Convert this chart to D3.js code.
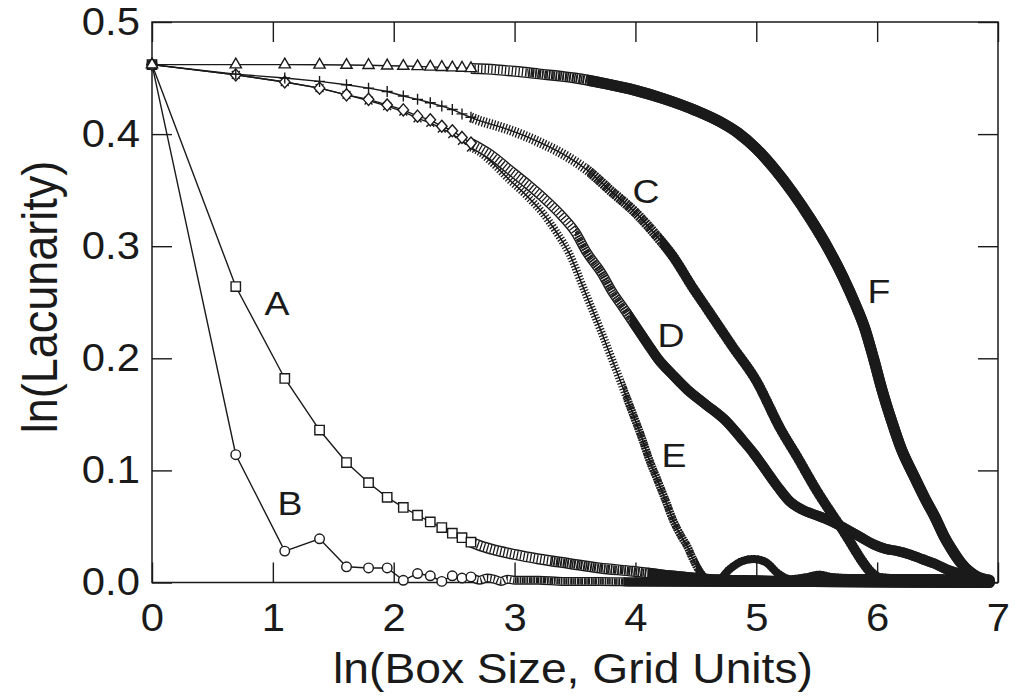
<!DOCTYPE html>
<html>
<head>
<meta charset="utf-8">
<script src="https://cdn.jsdelivr.net/npm/d3@7"></script>
<style>
  body { margin: 0; background: #fff; }
  text { font-family: "Liberation Sans", Arial, sans-serif; fill: #1a1a1a; }
</style>
</head>
<body>
<div id="chart"></div>
<script>
// box sizes plotted one marker at a time (grid units)
const boxSizes = [1, 2, 3, 4, 5, 6, 7, 8, 9, 10, 11, 12, 13, 14];

// ln(lacunarity) at those box sizes
const lacA = [0.462, 0.264, 0.182, 0.136, 0.107, 0.089, 0.076, 0.067, 0.060, 0.054, 0.049, 0.044, 0.040, 0.036];
const lacB = [0.462, 0.114, 0.028, 0.039, 0.014, 0.013, 0.013, 0.002, 0.008, 0.006, 0.001, 0.006, 0.004, 0.005];
const lacC = [0.462, 0.4535, 0.450, 0.447, 0.444, 0.441, 0.438, 0.434, 0.431, 0.428, 0.425, 0.422, 0.418, 0.415];
const lacD = [0.462, 0.4528, 0.4465, 0.441, 0.435, 0.431, 0.426, 0.4216, 0.416, 0.4127, 0.407, 0.403, 0.397, 0.392];
const lacE = [0.462, 0.4528, 0.4465, 0.441, 0.435, 0.430, 0.425, 0.420, 0.414, 0.410, 0.405, 0.400, 0.394, 0.388];
const lacF = [0.462, 0.462, 0.462, 0.4618, 0.4616, 0.4614, 0.461, 0.4607, 0.4604, 0.460, 0.4597, 0.4593, 0.459, 0.4586];

// larger boxes, where the markers pile up: [ln(box size), ln(lacunarity)]
const tailA = [[2.71, 0.033], [2.8, 0.030], [3.0, 0.025], [3.2, 0.021], [3.45, 0.017], [3.7, 0.013],
  [3.98, 0.010], [4.28, 0.006], [4.58, 0.003], [4.98, 0.0015], [5.47, 0.0008], [5.97, 0.0004], [6.93, 0]];
const tailB = [[2.71, 0.002], [2.77, 0.004], [2.83, 0.003], [2.89, 0.001], [2.94, 0.003], [3.0, 0.002],
  [3.2, 0.002], [3.4, 0.001], [3.7, 0.001], [4.0, 0.0005], [5.0, 0], [6.93, 0]];
const tailC = [[2.71, 0.412], [2.77, 0.410], [2.95, 0.404], [3.2, 0.393], [3.45, 0.379], [3.6, 0.368],
  [3.8, 0.349], [4.0, 0.330], [4.2, 0.306], [4.31, 0.291], [4.48, 0.262], [4.6, 0.243], [4.8, 0.211],
  [5.0, 0.180], [5.2, 0.137], [5.35, 0.110], [5.5, 0.082], [5.62, 0.062], [5.72, 0.046], [5.8, 0.032],
  [5.87, 0.020], [5.94, 0.010], [6.02, 0.004], [6.3, 0.002], [6.6, 0.001], [6.93, 0]];
const tailD = [[2.71, 0.388], [2.8, 0.382], [2.95, 0.369], [3.1, 0.356], [3.23, 0.344], [3.4, 0.326],
  [3.5, 0.313], [3.6, 0.294], [3.72, 0.276], [3.81, 0.259], [3.9, 0.245], [4.0, 0.229], [4.1, 0.213],
  [4.19, 0.199], [4.31, 0.185], [4.43, 0.172], [4.58, 0.159], [4.76, 0.143], [4.88, 0.128], [4.98, 0.115],
  [5.08, 0.100], [5.18, 0.085], [5.28, 0.072], [5.38, 0.065], [5.47, 0.061], [5.57, 0.057], [5.67, 0.052],
  [5.77, 0.046], [5.87, 0.040], [5.97, 0.034], [6.07, 0.030], [6.17, 0.028], [6.27, 0.025], [6.37, 0.021],
  [6.47, 0.017], [6.57, 0.012], [6.67, 0.008], [6.77, 0.004], [6.93, 0.001]];
const tailE = [[2.71, 0.384], [2.8, 0.376], [2.95, 0.360], [3.1, 0.345], [3.23, 0.330], [3.35, 0.312],
  [3.45, 0.294], [3.58, 0.260], [3.72, 0.223], [3.86, 0.184], [3.98, 0.150], [4.05, 0.130], [4.12, 0.108],
  [4.18, 0.092], [4.25, 0.073], [4.31, 0.056], [4.38, 0.041], [4.43, 0.032], [4.48, 0.020], [4.53, 0.010],
  [4.58, 0.004], [4.68, 0.002], [4.78, 0.012], [4.88, 0.019], [4.98, 0.021], [5.08, 0.018], [5.18, 0.008],
  [5.28, 0.003], [5.43, 0.005], [5.52, 0.007], [5.62, 0.005], [5.77, 0.004], [6.0, 0.004], [6.5, 0.004],
  [6.93, 0.002]];
const tailF = [[2.71, 0.4583], [2.77, 0.4580], [3.0, 0.4560], [3.2, 0.4537], [3.5, 0.4500], [3.75, 0.4450],
  [4.0, 0.4390], [4.25, 0.4310], [4.5, 0.4210], [4.7, 0.4110], [4.85, 0.4010], [5.0, 0.3870],
  [5.15, 0.3690], [5.3, 0.3480], [5.45, 0.3240], [5.6, 0.2970], [5.72, 0.2720], [5.82, 0.2480],
  [5.9, 0.2260], [5.97, 0.2000], [6.04, 0.1720], [6.12, 0.1440], [6.2, 0.1190], [6.3, 0.0960],
  [6.4, 0.0740], [6.48, 0.0580], [6.55, 0.0420], [6.62, 0.0290], [6.69, 0.0180], [6.76, 0.0100],
  [6.83, 0.0050], [6.93, 0.0020]];

const xTicks = [0, 1, 2, 3, 4, 5, 6, 7];
const yTicks = [0, 0.1, 0.2, 0.3, 0.4, 0.5];

const width = 1015, height = 696;
const ink = "#1a1a1a";
const stretch = 1.1; // lettering is a little wider than tall

// open marker shapes
const plusShape = {
  draw(ctx, size) {
    const r = Math.sqrt(size) / 2;
    ctx.moveTo(-r, 0); ctx.lineTo(r, 0);
    ctx.moveTo(0, -r); ctx.lineTo(0, r);
  }
};
const timesShape = {
  draw(ctx, size) {
    const r = Math.sqrt(size) / 2 * 0.75;
    ctx.moveTo(-r, -r); ctx.lineTo(r, r);
    ctx.moveTo(-r, r); ctx.lineTo(r, -r);
  }
};
const diamondShape = {
  draw(ctx, size) {
    const w = Math.sqrt(size) / 2, h = w * 1.15;
    ctx.moveTo(0, -h); ctx.lineTo(w, 0); ctx.lineTo(0, h); ctx.lineTo(-w, 0); ctx.closePath();
  }
};

// drawing order and look of each curve; band = width of the packed-marker band,
// denseFrom / solidFrom = ln(box size) where the band fills in and goes solid
const series = [
  {name: "A", values: lacA, tail: tailA, shape: d3.symbolSquare, size: 88, band: 11, style: "ladder", denseFrom: 3.3, solidFrom: 4.1, label: [1.034, 0.2384]},
  {name: "B", values: lacB, tail: tailB, shape: d3.symbolCircle, size: 72, band: 9, style: "ladder", denseFrom: 3.0, solidFrom: 3.9, label: [1.142, 0.0602]},
  {name: "E", values: lacE, tail: tailE, shape: timesShape, size: 110, band: 8, style: "rungs", denseFrom: 3.9, solidFrom: 4.5, label: [4.319, 0.1029]},
  {name: "D", values: lacD, tail: tailD, shape: diamondShape, size: 110, band: 10, style: "ladder", denseFrom: 3.5, solidFrom: 3.95, label: [4.294, 0.2099]},
  {name: "C", values: lacC, tail: tailC, shape: plusShape, size: 120, band: 10, style: "rungs", denseFrom: 3.6, solidFrom: 4.2, label: [4.087, 0.3382]},
  {name: "F", values: lacF, tail: tailF, shape: d3.symbolTriangle, size: 55, band: 11, style: "ladder", denseFrom: 3.1, solidFrom: 3.6, label: [6.015, 0.2491]}
];

const svg = d3.select("#chart").append("svg")
  .attr("width", width)
  .attr("height", height);

svg.append("rect").attr("width", width).attr("height", height).attr("fill", "#fff");

const x = d3.scaleLinear().domain([0, 7]).range([152, 998]);
const y = d3.scaleLinear().domain([0, 0.5]).range([582.5, 22]);

const defs = svg.append("defs");

// axes: inward ticks on all four sides, labels on bottom and left only
const axisStyle = g => {
  g.select(".domain").remove();
  g.selectAll(".tick line").attr("stroke", ink).attr("stroke-width", 1.4);
};
const labelStyle = g => g.selectAll(".tick text")
  .attr("font-size", 38)
  .attr("fill", ink)
  .attr("transform", `scale(${stretch},1)`);

svg.append("g")
  .attr("transform", `translate(0,${y(0)})`)
  .call(d3.axisBottom(x).tickValues(xTicks).tickFormat(d3.format("d")).tickSize(-20).tickPadding(22))
  .call(axisStyle)
  .call(labelStyle);

svg.append("g")
  .attr("transform", `translate(0,${y(0.5)})`)
  .call(d3.axisTop(x).tickValues(xTicks).tickFormat("").tickSize(-20))
  .call(axisStyle);

svg.append("g")
  .attr("transform", `translate(${x(0)},0)`)
  .call(d3.axisLeft(y).tickValues(yTicks).tickFormat(d3.format(".1f")).tickSize(-20).tickPadding(11))
  .call(axisStyle)
  .call(labelStyle);

svg.append("g")
  .attr("transform", `translate(${x(7)},0)`)
  .call(d3.axisRight(y).tickValues(yTicks).tickFormat("").tickSize(-20))
  .call(axisStyle);

svg.append("rect")
  .attr("x", x(0)).attr("y", y(0.5))
  .attr("width", x(7) - x(0)).attr("height", y(0) - y(0.5))
  .attr("fill", "none").attr("stroke", ink).attr("stroke-width", 1.5);

// curves
const straight = d3.line().x(d => x(d[0])).y(d => y(d[1]));
const smooth = d3.line().x(d => x(d[0])).y(d => y(d[1])).curve(d3.curveMonotoneX);

const plot = svg.append("g");

function clipFrom(id, x0, x1) {
  defs.append("clipPath").attr("id", id)
    .append("rect")
    .attr("x", x(x0)).attr("y", 0)
    .attr("width", x(x1) - x(x0)).attr("height", height);
  return `url(#${id})`;
}

series.forEach(s => {
  const pts = boxSizes.map((b, i) => [Math.log(b), s.values[i]]);
  const tailPts = [pts[pts.length - 1]].concat(s.tail);
  const g = plot.append("g").attr("class", "curve-" + s.name);
  const denseClip = clipFrom("dense-" + s.name, s.denseFrom, s.solidFrom);
  const solidClip = clipFrom("solid-" + s.name, s.solidFrom, 8);

  // thin connecting line
  g.append("path").attr("d", straight(pts))
    .attr("fill", "none").attr("stroke", ink).attr("stroke-width", 1.4);
  const tailPath = smooth(tailPts);
  g.append("path").attr("d", tailPath)
    .attr("fill", "none").attr("stroke", ink).attr("stroke-width", 1.4);

  // densely packed markers read as a textured band
  const band = (w, color, dash, clip) => {
    const p = g.append("path").attr("d", tailPath).attr("fill", "none")
      .attr("stroke", color).attr("stroke-width", w);
    if (dash) p.attr("stroke-dasharray", dash);
    if (clip) p.attr("clip-path", clip);
    return p;
  };
  if (s.style === "ladder") {
    band(s.band, ink);
    band(s.band - 2.8, "#fff");
    band(s.band - 2.8, ink, "1.3 2.1");
    band(s.band - 2.8, ink, "1.5 0.8", denseClip);
  } else {
    band(s.band, ink, "1.3 1.7");
    band(s.band, ink, "1.5 0.8", denseClip);
  }
  band(s.band, ink, null, solidClip).attr("stroke-linecap", "round");

  // open markers
  const sym = d3.symbol().type(s.shape).size(s.size);
  g.selectAll("path.marker")
    .data(pts)
    .join("path")
    .attr("class", "marker")
    .attr("transform", d => `translate(${x(d[0])},${y(d[1])})`)
    .attr("d", sym)
    .attr("fill", (s.shape === plusShape || s.shape === timesShape) ? "none" : "#fff")
    .attr("stroke", ink)
    .attr("stroke-width", 1.4);
});

// curve letters
series.forEach(s => {
  svg.append("text")
    .attr("transform", `translate(${x(s.label[0])},${y(s.label[1])}) scale(${stretch},1)`)
    .attr("text-anchor", "middle")
    .attr("font-size", 34)
    .text(s.name);
});

// axis titles
svg.append("text")
  .attr("transform", `translate(${(x(0) + x(7)) / 2 - 2},683) scale(${stretch},1)`)
  .attr("text-anchor", "middle")
  .attr("font-size", 42)
  .text("ln(Box Size, Grid Units)");

svg.append("text")
  .attr("transform", `translate(57,297) scale(${stretch},1) rotate(-90)`)
  .attr("text-anchor", "middle")
  .attr("font-size", 45)
  .text("ln(Lacunarity)");
</script>
</body>
</html>
